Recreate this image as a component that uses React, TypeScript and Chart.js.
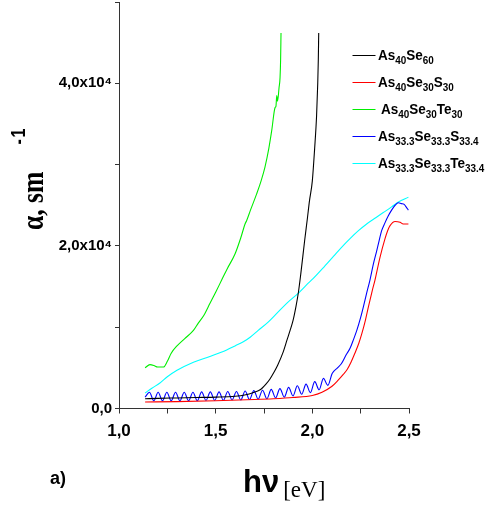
import React, { useEffect, useRef } from "react";
import { Chart, registerables } from "chart.js";

Chart.register(...registerables);

// photon energy hν [eV] and absorption α [10^4 sm^-1]
const xAs40Se60 = [1.135, 1.2, 1.3, 1.4, 1.5, 1.6, 1.65, 1.7, 1.73, 1.76, 1.78, 1.8, 1.82, 1.85, 1.87, 1.885, 1.9, 1.915, 1.928, 1.94, 1.96, 1.975, 1.985, 2.0, 2.012, 2.022, 2.028, 2.031, 2.033];
const yAs40Se60 = [0.12, 0.125, 0.13, 0.135, 0.14, 0.15, 0.165, 0.2, 0.23, 0.3, 0.36, 0.44, 0.53, 0.7, 0.85, 0.96, 1.08, 1.25, 1.43, 1.65, 2.06, 2.35, 2.55, 2.8, 3.2, 3.6, 4.0, 4.3, 4.62];

const xAs40Se30S30 = [1.135, 1.3, 1.5, 1.7, 1.8, 1.9, 2.0, 2.05, 2.1, 2.13, 2.16, 2.18, 2.2, 2.22, 2.24, 2.256, 2.275, 2.29, 2.31, 2.324, 2.35, 2.376, 2.39, 2.402, 2.428, 2.454, 2.47, 2.497];
const yAs40Se30S30 = [0.08, 0.085, 0.095, 0.11, 0.12, 0.135, 0.16, 0.2, 0.27, 0.34, 0.42, 0.48, 0.57, 0.68, 0.8, 0.92, 1.09, 1.25, 1.45, 1.58, 1.86, 2.09, 2.19, 2.25, 2.3, 2.29, 2.27, 2.27];

const xAs40Se30Te30 = [1.135, 1.16, 1.18, 1.2, 1.23, 1.25, 1.27, 1.3, 1.34, 1.385, 1.41, 1.44, 1.47, 1.5, 1.531, 1.56, 1.6, 1.63, 1.652, 1.66, 1.68, 1.712, 1.735, 1.755, 1.775, 1.79, 1.807, 1.812, 1.816, 1.82, 1.828, 1.833, 1.836, 1.838];
const yAs40Se30Te30 = [0.5, 0.54, 0.53, 0.51, 0.51, 0.58, 0.68, 0.77, 0.86, 0.96, 1.05, 1.15, 1.29, 1.43, 1.58, 1.72, 1.9, 2.1, 2.27, 2.31, 2.44, 2.64, 2.8, 2.97, 3.2, 3.42, 3.7, 3.72, 3.85, 3.78, 3.95, 4.07, 4.3, 4.62];

const xAs33Se33S33 = [1.135, 1.1575, 1.18, 1.2025, 1.225, 1.2475, 1.27, 1.2925, 1.315, 1.3375, 1.36, 1.3825, 1.405, 1.4275, 1.45, 1.4725, 1.495, 1.5175, 1.54, 1.5625, 1.585, 1.6075, 1.63, 1.6525, 1.675, 1.6975, 1.72, 1.7425, 1.765, 1.7875, 1.81, 1.8325, 1.855, 1.8775, 1.9, 1.9225, 1.945, 1.9675, 1.99, 2.0125, 2.035, 2.0575, 2.08, 2.1025,
  2.13, 2.15, 2.175, 2.195, 2.21, 2.23, 2.25, 2.264, 2.28, 2.298, 2.315, 2.333, 2.345, 2.359, 2.375, 2.393, 2.41, 2.428, 2.445, 2.46, 2.475, 2.485, 2.497];
const yAs33Se33S33 = [0.14, 0.2, 0.095, 0.2, 0.095, 0.2, 0.095, 0.2, 0.095, 0.2, 0.095, 0.2, 0.095, 0.205, 0.1, 0.205, 0.1, 0.205, 0.1, 0.21, 0.105, 0.21, 0.105, 0.215, 0.11, 0.22, 0.115, 0.225, 0.12, 0.235, 0.13, 0.245, 0.14, 0.26, 0.155, 0.28, 0.175, 0.3, 0.195, 0.33, 0.23, 0.37, 0.285, 0.43,
  0.5, 0.55, 0.66, 0.74, 0.83, 0.96, 1.12, 1.25, 1.41, 1.58, 1.77, 1.94, 2.06, 2.19, 2.28, 2.37, 2.44, 2.5, 2.53, 2.52, 2.51, 2.48, 2.44];

const xAs33Se33Te33 = [1.135, 1.17, 1.21, 1.25, 1.3, 1.385, 1.47, 1.557, 1.6, 1.643, 1.68, 1.72, 1.77, 1.816, 1.87, 1.928, 1.97, 2.005, 2.06, 2.109, 2.15, 2.195, 2.24, 2.281, 2.33, 2.367, 2.41, 2.445, 2.497];
const yAs33Se33Te33 = [0.19, 0.25, 0.31, 0.39, 0.47, 0.57, 0.64, 0.72, 0.77, 0.82, 0.88, 0.96, 1.06, 1.17, 1.3, 1.42, 1.52, 1.6, 1.74, 1.87, 1.98, 2.09, 2.19, 2.27, 2.35, 2.41, 2.48, 2.54, 2.6];

// legend labels: [text, subscript] pieces
const legendLabels: string[][][] = [
  [["As", "40"], ["Se", "60"]],
  [["As", "40"], ["Se", "30"], ["S", "30"]],
  [["As", "40"], ["Se", "30"], ["Te", "30"]],
  [["As", "33.3"], ["Se", "33.3"], ["S", "33.4"]],
  [["As", "33.3"], ["Se", "33.3"], ["Te", "33.4"]],
];
const seriesColors = ["#000000", "#ff0000", "#00ee00", "#0000ff", "#00ffff"];
const xTickLabels = ["1,0", "1,5", "2,0", "2,5"];
const yTickLabels = ["0,0", "2,0x10\u2074", "4,0x10\u2074"];

const SANS = "'Liberation Sans', Arial, sans-serif";
const SERIF = "'Liberation Serif', 'Times New Roman', serif";

type Part = { t: string; font: string; dy?: number; gap?: number };

function drawRich(ctx: CanvasRenderingContext2D, parts: Part[], sx = 1) {
  let cx = 0;
  ctx.save();
  ctx.scale(sx, 1);
  for (const p of parts) {
    cx += p.gap || 0;
    ctx.font = p.font;
    ctx.fillText(p.t, cx, p.dy || 0);
    cx += ctx.measureText(p.t).width;
  }
  ctx.restore();
}

const annotations = {
  id: "annotations",
  afterDraw(chart: any) {
    const ctx: CanvasRenderingContext2D = chart.ctx;
    ctx.save();
    ctx.fillStyle = "#000";
    ctx.textBaseline = "alphabetic";
    ctx.textAlign = "left";

    // legend
    legendLabels.forEach((lab, i) => {
      const y = 55 + i * 27;
      ctx.strokeStyle = seriesColors[i];
      ctx.lineWidth = 1;
      ctx.beginPath();
      ctx.moveTo(352.5, y + 0.5);
      ctx.lineTo(375.5, y + 0.5);
      ctx.stroke();
      const parts: Part[] = [];
      lab.forEach(([m, s]) => {
        parts.push({ t: m, font: `bold 15px ${SANS}` });
        parts.push({ t: s, font: `bold 11px ${SANS}`, dy: 4 });
      });
      ctx.save();
      ctx.translate(i === 2 ? 381 : 378, y + 5);
      drawRich(ctx, parts, 0.9);
      ctx.restore();
    });

    // y axis title
    ctx.save();
    ctx.translate(43, 230);
    ctx.rotate(-Math.PI / 2);
    drawRich(ctx, [
      { t: "\u03b1, sm", font: `bold 32px ${SERIF}` },
      { t: "-", font: `bold 20px ${SANS}`, dy: -18, gap: 34 },
      { t: "1", font: `bold 20px ${SANS}`, dy: -18, gap: 2 },
    ], 0.8);
    ctx.restore();

    // x axis title
    ctx.save();
    ctx.translate(243, 492);
    drawRich(ctx, [
      { t: "h\u03bd", font: `bold 31px ${SANS}` },
      { t: "[eV]", font: `23px ${SERIF}`, dy: 5, gap: 4 },
    ], 1);
    ctx.restore();

    // panel label
    ctx.font = `bold 18px ${SANS}`;
    ctx.fillText("a)", 50, 484);
    ctx.restore();
  },
};

function makeData(xs: number[], ys: number[]) {
  return xs.map((x, i) => ({ x, y: ys[i] }));
}

export default function App() {
  const ref = useRef<HTMLCanvasElement | null>(null);
  useEffect(() => {
    if (!ref.current) return;
    const series = [
      [xAs40Se60, yAs40Se60],
      [xAs40Se30S30, yAs40Se30S30],
      [xAs40Se30Te30, yAs40Se30Te30],
      [xAs33Se33S33, yAs33Se33S33],
      [xAs33Se33Te33, yAs33Se33Te33],
    ];
    const chart = new Chart(ref.current, {
      type: "line",
      data: {
        datasets: series.map(([xs, ys], i) => ({
          label: legendLabels[i].map(([m, s]) => m + s).join(""),
          data: makeData(xs, ys),
          borderColor: seriesColors[i],
          backgroundColor: seriesColors[i],
          borderWidth: 1.1,
          pointRadius: 0,
          cubicInterpolationMode: "monotone" as const,
          fill: false,
        })),
      },
      options: {
        animation: false,
        responsive: true,
        maintainAspectRatio: false,
        layout: { padding: { top: 2, right: 86, left: 0, bottom: 0 } },
        plugins: { legend: { display: false }, tooltip: { enabled: false } },
        scales: {
          x: {
            type: "linear",
            min: 1.0,
            max: 2.5,
            afterFit: (s: any) => {
              s.height = 515 - 408.5;
              s.paddingLeft = 0;
              s.paddingRight = 0;
            },
            ticks: {
              stepSize: 0.25,
              autoSkip: false,
              maxRotation: 0,
              padding: 8,
              color: "#000",
              font: { family: SANS, size: 17, weight: "bold" },
              callback: (v: any) => {
                const k = Math.round((Number(v) - 1) * 4);
                return k % 2 === 0 ? xTickLabels[k / 2] : "";
              },
            },
            grid: { display: true, drawOnChartArea: false, drawTicks: true, tickLength: 5, color: "#333" },
            border: { display: true, color: "#333", width: 1 },
          },
          y: {
            type: "linear",
            min: 0,
            max: 5,
            afterFit: (s: any) => {
              s.width = 119;
              s.paddingTop = 0;
              s.paddingBottom = 0;
            },
            ticks: {
              stepSize: 1,
              autoSkip: false,
              padding: 3,
              color: "#000",
              font: { family: SANS, size: 15, weight: "bold" },
              callback: (v: any) => {
                const k = Math.round(Number(v));
                return k % 2 === 0 && yTickLabels[k / 2] ? yTickLabels[k / 2] : "";
              },
            },
            grid: { display: true, drawOnChartArea: false, drawTicks: true, tickLength: 4, color: "#333" },
            border: { display: true, color: "#333", width: 1 },
          },
        },
      },
      plugins: [annotations],
    });
    return () => chart.destroy();
  }, []);
  return (
    <div style={{ position: "absolute", left: 0, top: 0, width: 495, height: 515, background: "#fff" }}>
      <canvas ref={ref} />
    </div>
  );
}
